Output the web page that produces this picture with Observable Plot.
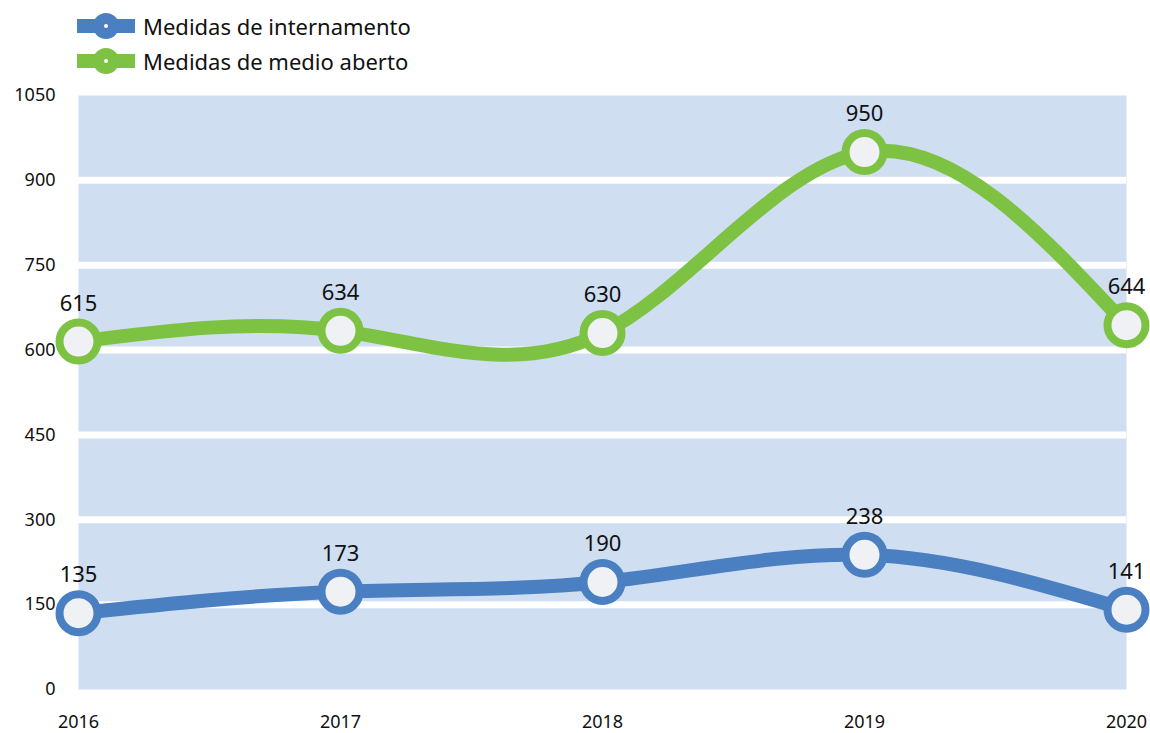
<!DOCTYPE html>
<html>
<head>
<meta charset="utf-8">
<script src="https://cdn.jsdelivr.net/npm/d3@7"></script>
<script src="https://cdn.jsdelivr.net/npm/@observablehq/plot@0.6"></script>
<style>
  body { margin: 0; background: #fff; font-family: "Noto Sans", sans-serif; }
  #legend { height: 75px; position: relative; }
  .item { position: absolute; left: 77px; display: flex; align-items: center; font-size: 22px; color: #111; }
  .item svg { margin-right: 8px; }
</style>
</head>
<body>
<div id="legend"></div>
<div id="chart"></div>
<script>
const years = [2016, 2017, 2018, 2019, 2020];
const internamento = [135, 173, 190, 238, 141];
const medioAberto = [615, 634, 630, 950, 644];
const seriesNames = ["Medidas de internamento", "Medidas de medio aberto"];
const seriesColors = ["#4a7fc1", "#7dc243"];
const yTicks = [0, 150, 300, 450, 600, 750, 900, 1050];

const data = [];
years.forEach((y, i) => data.push({year: y, value: internamento[i], series: seriesNames[0]}));
years.forEach((y, i) => data.push({year: y, value: medioAberto[i], series: seriesNames[1]}));

// Legend
const legend = document.getElementById("legend");
seriesNames.forEach((name, i) => {
  const d = document.createElement("div");
  d.className = "item";
  d.style.top = (i === 0 ? 11 : 46) + "px";
  d.innerHTML = `<svg width="58" height="30"><rect x="0" y="8" width="58" height="14" fill="${seriesColors[i]}"/><circle cx="29" cy="15" r="13" fill="${seriesColors[i]}"/><circle cx="29" cy="15" r="2" fill="#fff"/></svg><span>${name}</span>`;
  legend.appendChild(d);
});

const chart = Plot.plot({
  width: 1150,
  height: 658,
  marginTop: 20,
  marginBottom: 44,
  marginLeft: 78,
  marginRight: 24,
  style: {fontFamily: "Noto Sans, sans-serif", color: "#111", background: "#fff", overflow: "visible"},
  x: {domain: [2016, 2020], label: null},
  y: {domain: [0, 1050], label: null},
  color: {domain: seriesNames, range: seriesColors},
  marks: [
    Plot.frame({fill: "#cfdef1", stroke: null}),
    Plot.ruleY(yTicks.filter(t => t > 0 && t < 1050), {stroke: "#fff", strokeWidth: 7}),
    Plot.axisX({ticks: years, tickFormat: d => String(d), tickSize: 0, tickPadding: 26, fontSize: 18, label: null}),
    Plot.axisY({ticks: yTicks, tickFormat: d => String(d), tickSize: 0, tickPadding: 23, fontSize: 18, label: null}),
    Plot.line(data, {x: "year", y: "value", z: "series", stroke: "series", strokeWidth: 14, curve: "natural"}),
    Plot.dot(data, {x: "year", y: "value", r: 19, stroke: "series", strokeWidth: 8, fill: "#eff1f4"}),
    Plot.text(data, {x: "year", y: "value", text: "value", dy: -38, fontSize: 22, fill: "#111"})
  ]
});
document.getElementById("chart").appendChild(chart);
</script>
</body>
</html>
